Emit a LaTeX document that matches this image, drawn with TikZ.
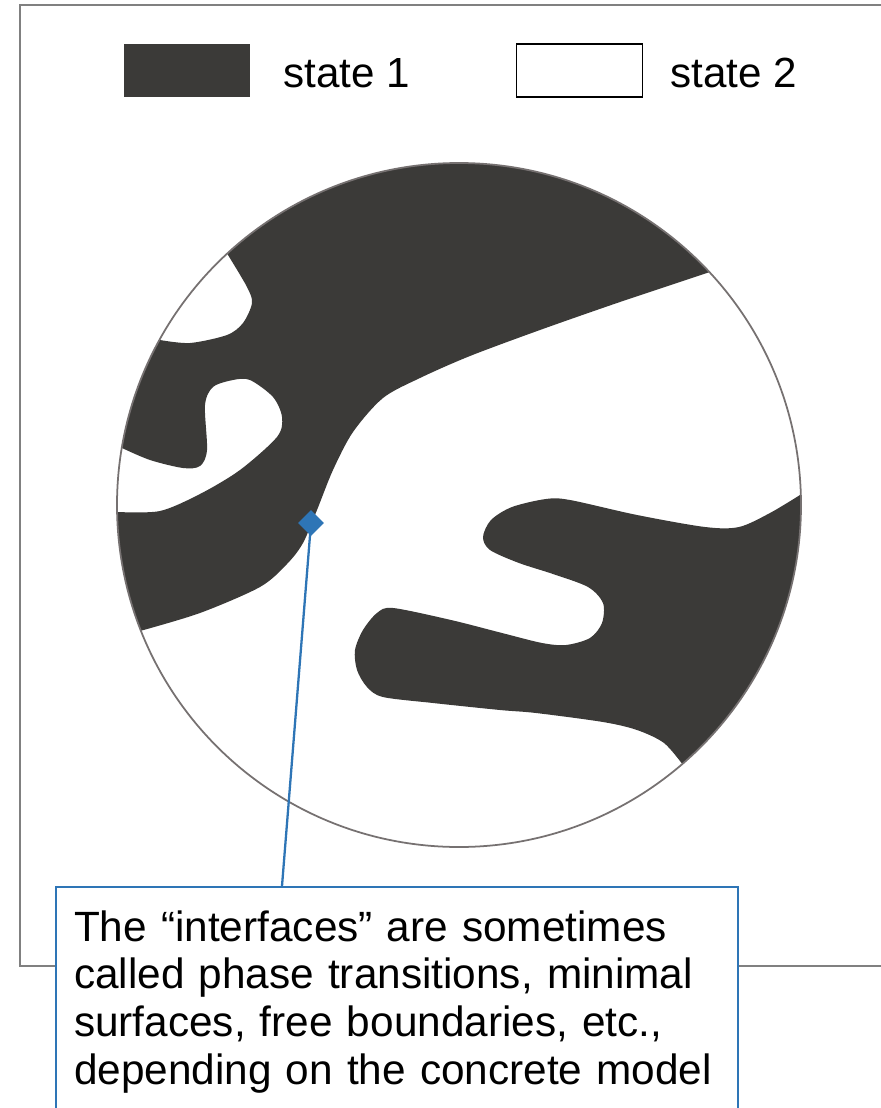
\documentclass[tikz,border=0pt]{standalone}
\usepackage{fontspec}
\setmainfont{Liberation Sans}
\usepackage{tikz}
\usetikzlibrary{shapes.geometric,positioning}
\definecolor{stateone}{HTML}{3B3A38}
\definecolor{rimgray}{HTML}{767171}
\definecolor{framegray}{HTML}{808080}
\definecolor{callblue}{HTML}{2E75B6}

\begin{document}
\begin{tikzpicture}[x=0.02cm, y=-0.02cm,
    swatch/.style={rectangle, minimum width=2.52cm, minimum height=1.06cm, inner sep=0pt},
    legendtext/.style={font=\fontsize{24}{28}\selectfont, inner sep=0pt, anchor=base west},
    note/.style={rectangle, draw=callblue, line width=1.2pt, fill=white,
        text width=12.92cm, align=left, inner xsep=0.36cm, inner ysep=0.48cm,
        text height=0.6cm, text depth=4cm, font=\fontsize{24.1}{27.2}\selectfont}]
    \useasboundingbox (0,0) rectangle (881,1108);
    \draw[framegray, line width=0.9pt] (20,5) rectangle (900,966);

    \node[swatch, fill=stateone] (swone) at (187,70.5) {};
    \node[legendtext] (labone) at (283,88) {state 1};
    \node[swatch, draw=black, line width=0.9pt, fill=white] (swtwo) at (579.5,70.5) {};
    \node[legendtext] (labtwo) at (670,88) {state 2};

    \fill[white] (459,505) circle (342);
    \begin{scope}
        \clip (459,505) circle (342);
        \fill[stateone] (228,255) -- (150,150) -- (800,150) -- (710,272)
            -- plot[smooth] coordinates {(710,272) (620,302) (540,330) (470,356) (420,378) (383,398)
                (353,432) (333,470) (317,510) (303,543) (287,564) (260,587) (200,613) (140,631)}
            -- (60,640) -- (60,512) -- (118,512)
            -- plot[smooth] coordinates {(118,512) (160,511) (200,494) (240,470) (277,437) (282,417)
                (273,397) (250,380) (233,380) (213,387) (205,405) (207,450) (200,466) (183,468)
                (150,460) (122,448)}
            -- (60,448) -- (60,340) -- (160,340)
            -- plot[smooth] coordinates {(160,340) (190,343) (227,335) (243,323) (252,303) (247,287) (228,255)}
            -- cycle;
        \fill[stateone] (800,495)
            -- plot[smooth] coordinates {(800,495) (770,513) (739,527) (705,527) (637,515) (570,500)
                (546,499) (512,507) (491,520) (483,537) (490,550) (519,563) (553,574) (588,587)
                (603,603) (602,623) (590,638) (566,645) (542,643) (502,633) (451,620) (393,608)
                (377,613) (363,630) (355,650) (357,670) (367,687) (383,697) (433,703) (500,710)
                (536,713) (603,722) (637,730) (664,743) (683,765)}
            -- (760,840) -- (900,840) -- (900,495) -- cycle;
    \end{scope}
    \draw[rimgray, line width=1pt] (459,505) circle (342);

    \node[note, anchor=north west] (note) at (55,886) {The “interfaces” are sometimes\\
        called phase transitions, minimal\\
        surfaces, free boundaries, etc.,\\
        depending on the concrete model};
    \coordinate (notetip) at (282,886);
    \node[diamond, fill=callblue, inner sep=0pt, minimum size=0.52cm] (iface) at (311,523) {};
    \draw[callblue, line width=1.3pt] (iface.center) -- (notetip);
\end{tikzpicture}
\end{document}
